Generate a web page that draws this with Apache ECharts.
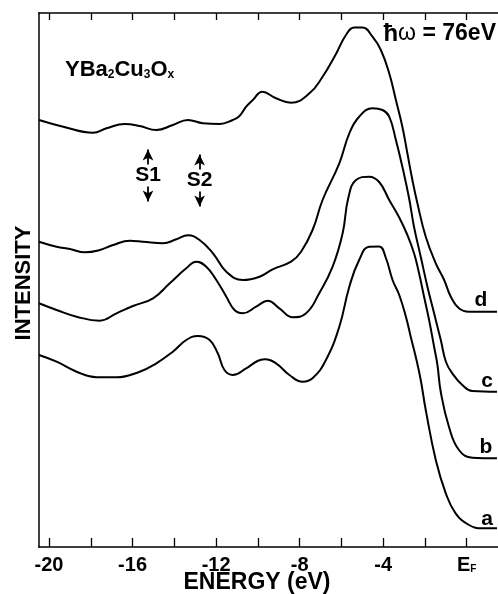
<!DOCTYPE html>
<html>
<head>
<meta charset="utf-8">
<script src="https://cdn.jsdelivr.net/npm/echarts@6/dist/echarts.min.js"></script>
<style>
html,body{margin:0;padding:0;background:#fff;}
#chart{width:498px;height:594px;}
</style>
</head>
<body>
<div id="chart"></div>
<script>
// Energy (eV) and intensity (arbitrary units, offset curves)
const energyD = [-20.48,-19.32,-17.89,-17.25,-16.37,-15.66,-14.86,-14.07,-13.35,-12.63,-11.83,-11.20,-10.88,-10.56,-10.24,-9.79,-9.13,-8.41,-7.53,-6.90,-6.26,-5.78,-5.38,-4.99,-4.51,-4.11,-3.71,-3.39,-3.08,-2.84,-2.60,-2.36,-1.96,-1.48,-1.08,-0.76,-0.37,0.11,1.45];
const intensityD = [427,420.3,414.3,418.7,423,421,417,422,427,423.7,423,427,431,440.3,447,455.3,448.7,444.3,453.7,470.3,493,512,519.5,519.5,510.3,497,473.7,447,420.3,393.7,367,343.7,310.3,283.7,267,250.3,238.7,235.3,235.3];

const energyC = [-20.48,-19.64,-19.00,-18.28,-17.57,-16.93,-16.13,-15.50,-14.54,-13.90,-13.35,-12.79,-12.15,-11.51,-10.72,-9.92,-9.29,-8.41,-7.93,-7.38,-6.90,-6.10,-5.62,-5.15,-4.51,-4.03,-3.71,-3.39,-3.08,-2.76,-2.52,-2.20,-1.88,-1.56,-1.24,-0.99,-0.69,-0.21,0.27,1.45];
const intensityC = [305.3,300.3,298,294.7,297,302,306.3,305.3,303.7,307.7,311.7,307,293.7,275.3,267,270.3,277.7,285.3,295.3,317,347,383.7,413.7,430.3,438.7,437,430.3,407,380.3,349,320,290.3,260.3,233.7,207,185,173.7,162,156,155.3];

const energyB = [-20.48,-19.64,-18.68,-17.57,-16.77,-15.98,-15.02,-14.22,-13.43,-12.95,-12.47,-11.99,-11.51,-11.12,-10.72,-10.08,-9.53,-8.97,-8.33,-7.69,-7.06,-6.42,-5.94,-5.67,-5.30,-4.67,-4.19,-3.71,-3.23,-2.84,-2.52,-2.28,-2.04,-1.80,-1.56,-1.40,-1.24,-0.85,-0.37,0.27,1.45];
const intensityB = [243.7,237,230.3,226.3,233.7,241,248.7,263.7,278.7,285.3,280.3,267,250.3,237,233.7,240.3,246.3,238.7,229.7,233.7,253.7,280.3,313.7,349,367,370.3,365,347,329.5,312,293.7,273.7,250.3,227,200.3,182,155,120.3,97,89.3,88.7];

const energyA = [-20.48,-19.64,-18.68,-17.73,-16.77,-15.66,-14.86,-14.07,-13.43,-12.87,-12.31,-11.92,-11.60,-11.20,-10.56,-10.02,-9.68,-9.13,-8.49,-7.85,-7.38,-6.74,-6.10,-5.62,-5.15,-4.67,-4.19,-3.87,-3.55,-3.23,-2.91,-2.68,-2.44,-2.20,-1.96,-1.48,-1.00,-0.53,0.11,0.75,1.45];
const intensityA = [192,185.3,175.3,169.7,169.7,175.3,183.7,195.3,207,211,207,193.7,177,172,178.7,186,187.7,183.7,172,165.3,168.7,187,220.3,260.3,287,300.3,300.5,289,267,252,230.3,210.3,190.3,167,137,87,53.7,33.7,22,18.7,18.7];

const curveNames = ['a','b','c','d'];
const tickValues = [-20,-18,-16,-14,-12,-10,-8,-6,-4,-2,0];
const labelValues = [-20,-16,-12,-8,-4,0];

// S1 / S2 marker positions: [energy, intensity at text centre]
const s1Marker = [-15.26, 371.5];
const s2Marker = [-12.79, 366.5];

const FONT = '"Liberation Sans", Arial, Helvetica, sans-serif';

function zip(xs, ys){ return xs.map((x,i)=>[x, ys[i]]); }

const chart = echarts.init(document.getElementById('chart'), null, {renderer:'canvas'});

function lineSeries(name, xs, ys){
  return {
    name: name, type: 'line', data: zip(xs, ys), smooth: 0.45,
    showSymbol: false, symbol: 'none',
    lineStyle: {color: '#000', width: 2},
    silent: true, animation: false, z: 3
  };
}

function arrowLines(m){
  return [
    [{coord:[m[0], m[1]+11], symbol:'none'}, {coord:[m[0], m[1]+26], symbol:'arrow', symbolSize:[8,11]}],
    [{coord:[m[0], m[1]-11], symbol:'none'}, {coord:[m[0], m[1]-26], symbol:'arrow', symbolSize:[8,11]}]
  ];
}

const seriesList = [
  lineSeries('a', energyA, intensityA),
  lineSeries('b', energyB, intensityB),
  lineSeries('c', energyC, intensityC),
  lineSeries('d', energyD, intensityD)
];
seriesList.push({
  type:'line', data:[], silent:true, animation:false,
  markLine:{
    silent:true, animation:false, symbol:['none','arrow'],
    lineStyle:{color:'#000', width:1.8, type:'solid'},
    label:{show:false},
    data: arrowLines(s1Marker).concat(arrowLines(s2Marker))
  },
  markPoint:{
    silent:true, animation:false, symbol:'circle', symbolSize:0,
    data:[
      {coord:s1Marker, label:{show:true, formatter:'S1', position:'inside', color:'#000', fontSize:21, fontWeight:'bold', fontFamily:FONT}},
      {coord:s2Marker, label:{show:true, formatter:'S2', position:'inside', color:'#000', fontSize:21, fontWeight:'bold', fontFamily:FONT}}
    ]
  }
});

const option = {
  animation: false,
  backgroundColor: '#fff',
  grid: {left: 38.6, right: -1.1, top: 13, bottom: 47, containLabel: false},
  xAxis: [
    {
      type:'value', position:'bottom', min:-20.5, max:1.5,
      axisLine:{show:true, onZero:false, lineStyle:{color:'#000', width:1.5}},
      axisTick:{show:true, inside:true, length:9, customValues: tickValues, lineStyle:{color:'#000', width:1.3}},
      axisLabel:{
        show:true, customValues: labelValues, margin:8, color:'#000',
        fontSize:20, fontWeight:'bold', fontFamily:FONT,
        formatter: function(v){ return v === 0 ? '{e|E}{f|F}' : String(v); },
        rich:{
          e:{fontSize:20, fontWeight:'bold', fontFamily:FONT, color:'#000'},
          f:{fontSize:10, fontWeight:'bold', fontFamily:FONT, color:'#000', padding:[9,0,0,0]}
        }
      },
      splitLine:{show:false}
    },
    {
      type:'value', position:'top', min:-20.5, max:1.5,
      axisLine:{show:true, onZero:false, lineStyle:{color:'#000', width:1.5}},
      axisTick:{show:true, inside:true, length:7, customValues: tickValues, lineStyle:{color:'#000', width:1.3}},
      axisLabel:{show:false},
      splitLine:{show:false}
    }
  ],
  yAxis: {
    type:'value', min:0, max:534,
    axisLine:{show:true, onZero:false, lineStyle:{color:'#000', width:1.5}},
    axisTick:{show:false}, axisLabel:{show:false}, splitLine:{show:false}
  },
  series: seriesList,
  graphic: [
    {type:'text', x:24, y:283, rotation:Math.PI/2, silent:true,
      style:{text:'INTENSITY', fill:'#000', font:'bold 22px '+FONT, textAlign:'center', textVerticalAlign:'middle'}},
    {type:'text', x:257, y:583, silent:true,
      style:{text:'ENERGY (eV)', fill:'#000', font:'bold 23px '+FONT, textAlign:'center', textVerticalAlign:'middle'}},
    {type:'text', x:65, y:70, silent:true,
      style:{text:'{b|YBa}{s|2}{b|Cu}{s|3}{b|O}{s|x}', textAlign:'left', textVerticalAlign:'middle',
        rich:{
          b:{fontSize:22, fontWeight:'bold', fontFamily:FONT, color:'#000'},
          s:{fontSize:12, fontWeight:'bold', fontFamily:FONT, color:'#000', padding:[10,0,0,0]}
        }}},
    {type:'text', x:496, y:34, silent:true,
      style:{text:'{h|ħ}{w|ω}{b| = 76eV}', textAlign:'right', textVerticalAlign:'middle',
        rich:{
          h:{fontSize:24, fontWeight:'bold', fontFamily:FONT, color:'#000'},
          w:{fontSize:23, fontWeight:'normal', fontFamily:FONT, color:'#000'},
          b:{fontSize:23, fontWeight:'bold', fontFamily:FONT, color:'#000'}
        }}},
    {type:'text', x:481, y:300, silent:true, style:{text:'d', fill:'#000', font:'bold 21px '+FONT, textAlign:'center', textVerticalAlign:'middle'}},
    {type:'text', x:487, y:381, silent:true, style:{text:'c', fill:'#000', font:'bold 21px '+FONT, textAlign:'center', textVerticalAlign:'middle'}},
    {type:'text', x:486, y:447, silent:true, style:{text:'b', fill:'#000', font:'bold 21px '+FONT, textAlign:'center', textVerticalAlign:'middle'}},
    {type:'text', x:487, y:519, silent:true, style:{text:'a', fill:'#000', font:'bold 21px '+FONT, textAlign:'center', textVerticalAlign:'middle'}}
  ]
};
chart.setOption(option);
</script>
</body>
</html>
